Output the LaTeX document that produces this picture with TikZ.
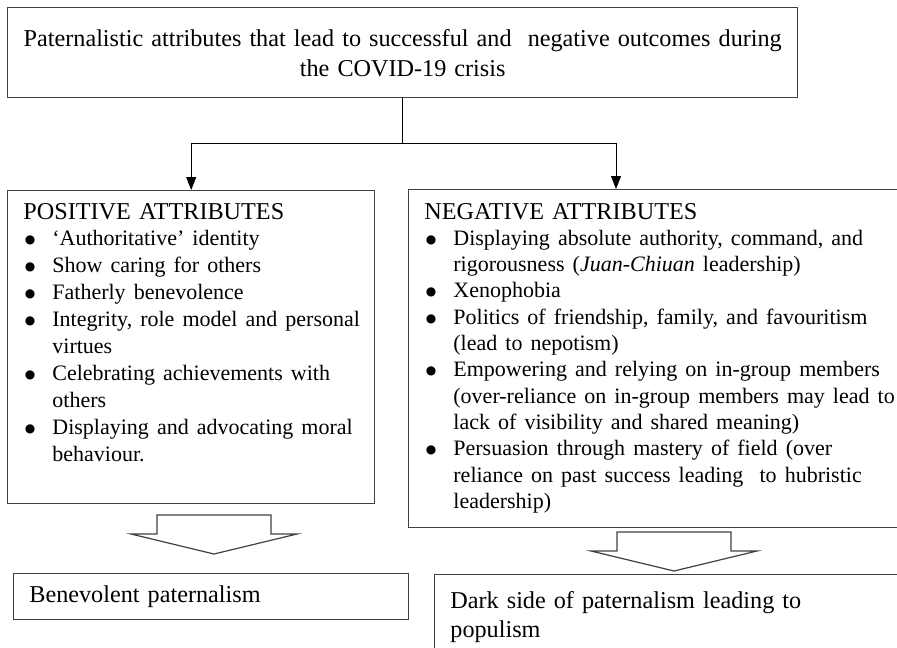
\documentclass[tikz,border=0pt]{standalone}
\usepackage{fontspec}
\setmainfont{Liberation Serif}
\newfontfamily\symfont{DejaVu Sans}
\usetikzlibrary{positioning, arrows.meta, calc}

\newcommand{\bulitem}{\par\fontsize{11}{\listskip}\selectfont\noindent\hangindent=14.5pt\hangafter=1%
    \makebox[14.5pt][l]{\hspace{0.7pt}\raisebox{1pt}{\symfont\fontsize{6}{6}\selectfont ●}}}
\newcommand{\listskip}{13.25pt}

\begin{document}
\begin{tikzpicture}[
    x=0.5pt, y=-0.5pt,
    frame/.style={rectangle, draw=black!75, line width=0.7pt, inner sep=0pt, anchor=north west},
    listtext/.style={inner sep=0pt, anchor=base west, text width=300pt, font=\fontsize{12.1}{13.25}\selectfont},
    link/.style={line width=0.5pt},
    arrow/.style={link, -{Triangle[length=6.5pt, width=5pt]}},
    downblock/.pic={\draw[draw=black!75, line width=0.6pt] (-57,0) -- (-57,19) -- (-83,19) -- (0,39) -- (83,19) -- (57,19) -- (57,0) -- cycle;}
]
\useasboundingbox (0,0) rectangle (897,647);

% Title box
\node[frame, minimum width=395pt, minimum height=45pt, text width=390pt, align=center,
      font=\fontsize{12.1}{15}\selectfont] (tbox) at (7,7)
    {Paternalistic attributes that lead to successful and\ \ negative outcomes during\\the COVID-19 crisis};

% Attribute boxes
\node[frame, minimum width=183.5pt, minimum height=156.5pt] (pos) at (7,190) {};
\node[frame, minimum width=251pt, minimum height=169pt] (neg) at (408,189) {};

\node[listtext, font=\renewcommand{\listskip}{13.45pt}\fontsize{12.1}{13.45}\selectfont] (postxt) at (23,219) {%
    \noindent POSITIVE ATTRIBUTES
    \bulitem ‘Authoritative’ identity
    \bulitem Show caring for others
    \bulitem Fatherly benevolence
    \bulitem Integrity, role model and personal\newline virtues
    \bulitem Celebrating achievements with\newline others
    \bulitem Displaying and advocating moral\newline behaviour.\par};

\node[listtext, font=\renewcommand{\listskip}{13.15pt}\fontsize{12.1}{13.15}\selectfont] (negtxt) at (424,219) {%
    \noindent NEGATIVE ATTRIBUTES
    \bulitem Displaying absolute authority, command, and\newline rigorousness (\textit{Juan-Chiuan} leadership)
    \bulitem Xenophobia
    \bulitem Politics of friendship, family, and favouritism\newline (lead to nepotism)
    \bulitem Empowering and relying on in-group members\newline (over-reliance on in-group members may lead to\newline lack of visibility and shared meaning)
    \bulitem Persuasion through mastery of field (over\newline reliance on past success leading\ \ to hubristic\newline leadership)\par};

% Outcome boxes
\node[frame, minimum width=197.5pt, minimum height=23pt] (ben) at (13,573) {};
\node[frame, minimum width=238pt, minimum height=43pt] (dark) at (434,574) {};

\node[listtext] (bentxt) at (29,602) {Benevolent paternalism};
\node[listtext, font=\fontsize{12.1}{14.5}\selectfont] (darktxt) at (450,608)
    {Dark side of paternalism leading to\newline populism\par};

% Connectors
\coordinate (split) at ($(tbox.south)+(0,45)$);
\coordinate (negin) at ($(neg.north west)+(208,0)$);
\draw[link] (tbox.south) -- (split);
\draw[arrow] (split) -| (pos.north);
\draw[arrow] (split) -| (negin);

% Block arrows
\pic at (214,515) {downblock};
\pic at (674,532) {downblock};

\end{tikzpicture}
\end{document}
